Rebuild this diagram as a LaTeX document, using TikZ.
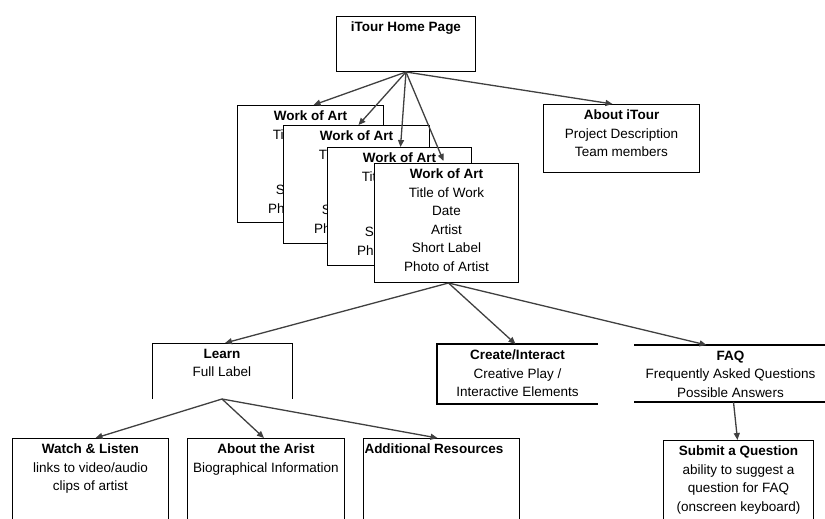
\documentclass[tikz,border=0pt]{standalone}
\usepackage{fontspec}
\setmainfont{Liberation Sans}
\usetikzlibrary{arrows.meta,calc}
% top-aligned, centred text block of a fixed size
\newcommand{\cardtext}[3]{\parbox[t][#2][t]{#1}{\centering\vspace*{5.5pt}#3}}
\begin{document}
\begin{tikzpicture}[x=1pt,y=-1pt,
  card/.style={draw=black, line width=1pt, fill=white, inner sep=0pt,
    anchor=north west, font=\fontsize{13.5}{18.5}\selectfont},
  open/.style={card, draw=none},
  edge/.style={draw=black, line width=1pt},
  link/.style={draw=black!75, line width=1.3pt,
    -{Triangle[length=7pt,width=6pt]}}]
\useasboundingbox (0,0) rectangle (825,519);
\clip (0,0) rectangle (825,519);

% top level
\node[card] (home) at (336,16) {\cardtext{139pt}{55pt}{\textbf{iTour Home Page}}};

% stacked artwork pages
\node[card] (woa1) at (237,105) {\cardtext{146pt}{117pt}{\textbf{Work of Art}\\Title of Work\\Date\\Artist\\Short Label\\Photo of Artist}};
\node[card] (woa2) at (283,125) {\cardtext{146pt}{118pt}{\textbf{Work of Art}\\Title of Work\\Date\\Artist\\Short Label\\Photo of Artist}};
\node[card] (woa3) at (327,147) {\cardtext{144pt}{118pt}{\textbf{Work of Art}\\Title of Work\\Date\\Artist\\Short Label\\Photo of Artist}};
\node[card] (woa4) at (374,163) {\cardtext{144pt}{119pt}{\textbf{Work of Art}\\Title of Work\\Date\\Artist\\Short Label\\Photo of Artist}};

\node[card] (about) at (543,104) {\cardtext{156pt}{68pt}{\textbf{About iTour}\\Project Description\\Team members}};

% second level
\node[open] (learn) at (152,343) {\cardtext{139pt}{55pt}{\textbf{Learn}\\Full Label}};
\draw[edge] (learn.south west) -- (learn.north west) -- (learn.north east) -- (learn.south east);

\node[open] (create) at (437,344) {\cardtext{160pt}{59pt}{\textbf{Create/Interact}\\Creative Play /\\Interactive Elements}};
\draw[edge, line width=1.6pt] (create.north east) -- (create.north west) -- (create.south west) -- (create.south east);

\node[open] (faq) at (634,345) {\cardtext{192pt}{56pt}{\textbf{FAQ}\\Frequently Asked Questions\\Possible Answers}};
\draw[edge, line width=1.8pt] (faq.north west) -- (faq.north east);
\draw[edge, line width=1.8pt] (faq.south west) -- (faq.south east);

% third level
\node[card] (watch) at (12,438) {\cardtext{156pt}{90pt}{\textbf{Watch \& Listen}\\links to video/audio\\clips of artist}};
\node[card] (arist) at (187,438) {\cardtext{157pt}{90pt}{\textbf{About the Arist}\\\makebox[157pt]{Biographical Information}}};
\node[card] (addl) at (363,438) {\parbox[t][90pt][t]{156pt}{\raggedright\vspace*{5.5pt}\hspace*{1pt}\textbf{Additional Resources}}};
\node[card] (submit) at (663,440) {\cardtext{150pt}{90pt}{\textbf{Submit a Question}\\ability to suggest a\\question for FAQ\\(onscreen keyboard)}};

% connectors
\draw[link] (home.south) -- ($(woa1.north)+(3,0)$);
\draw[link] (home.south) -- ($(woa2.north)+(2,0)$);
\draw[link] (home.south) -- ($(woa3.north)+(1,0)$);
\draw[link] (home.south) -- ($(woa4.north)+(-3,-2)$);
\draw[link] (home.south) -- ($(about.north)+(-9,0)$);

\draw[link] ($(woa4.south)+(2,0)$) -- ($(learn.north)+(3,0)$);
\draw[link] ($(woa4.south)+(2,0)$) -- ($(create.north)+(-2,0)$);
\draw[link] ($(woa4.south)+(2,0)$) -- ($(faq.north)+(-24,0)$);

\draw[link] (learn.south) -- ($(watch.north)+(5,0)$);
\draw[link] (learn.south) -- ($(arist.north)+(-2,0)$);
\draw[link] (learn.south) -- ($(addl.north)+(-4,0)$);

\draw[link] ($(faq.south)+(3,0)$) -- ($(submit.north)+(-1,0)$);
\end{tikzpicture}
\end{document}
